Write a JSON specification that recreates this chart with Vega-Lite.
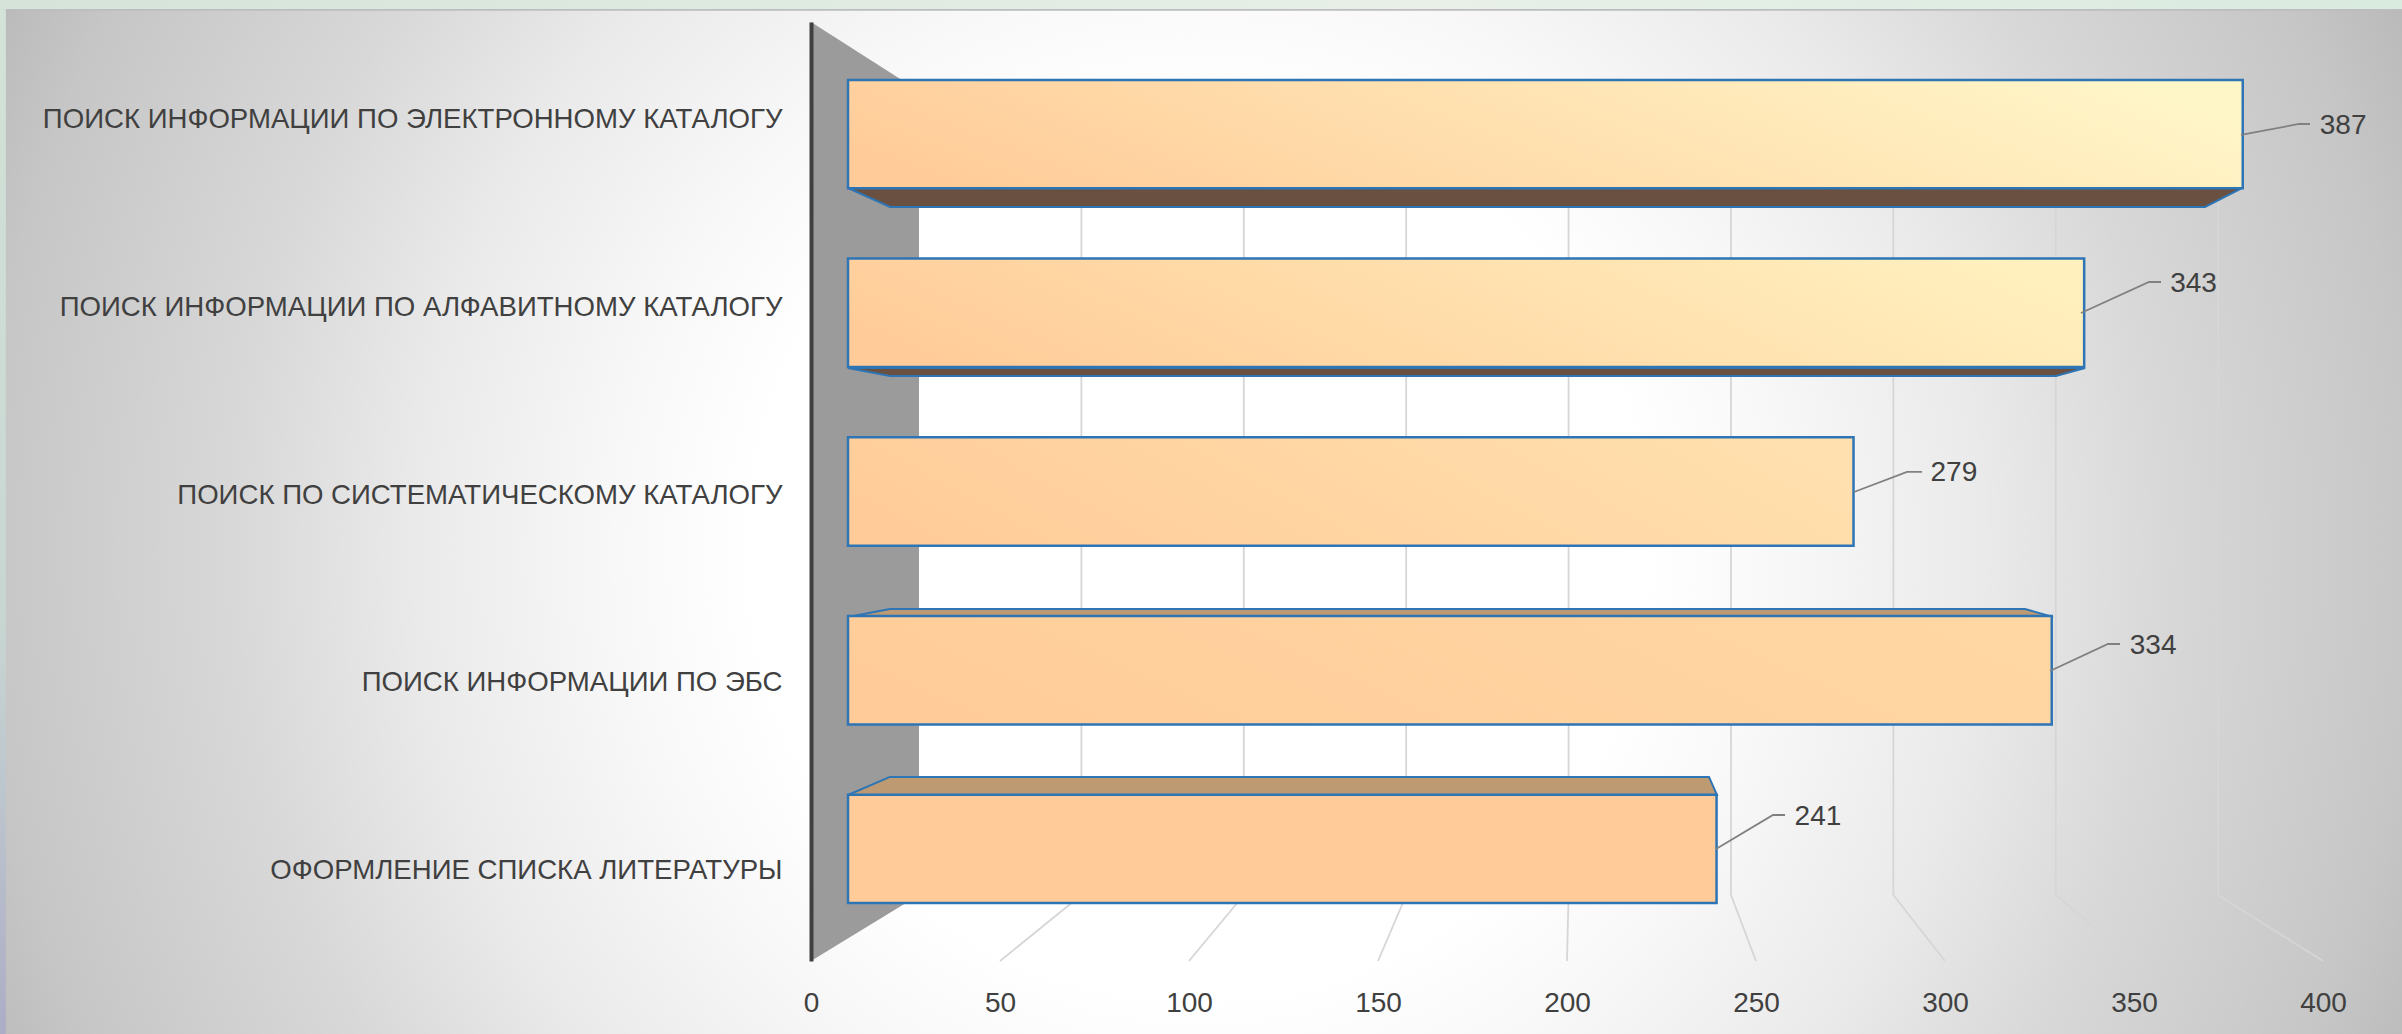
{
"$schema":"https://vega.github.io/schema/vega-lite/v6.json",
"width":1512,"height":939,
"autosize":{"type":"none"},
"padding":{"left":811,"top":22,"right":79,"bottom":73},
"background":"#E4EDE4",
"datasets":{
"bars":[
{"task":"ПОИСК ИНФОРМАЦИИ ПО ЭЛЕКТРОННОМУ КАТАЛОГУ","value":387},
{"task":"ПОИСК ИНФОРМАЦИИ ПО АЛФАВИТНОМУ КАТАЛОГУ","value":343},
{"task":"ПОИСК ПО СИСТЕМАТИЧЕСКОМУ КАТАЛОГУ","value":279},
{"task":"ПОИСК ИНФОРМАЦИИ ПО ЭБС","value":334},
{"task":"ОФОРМЛЕНИЕ СПИСКА ЛИТЕРАТУРЫ","value":241}],
"frame":[
{"part":"panel","x0":-254.7,"x1":460.1,"p0":187.7,"p1":-100.1},
{"part":"top","x0":-214.6,"x1":421,"p0":102.4,"p1":101.38},
{"part":"line","x0":-214.6,"x1":421,"p0":101.38,"p1":101.2},
{"part":"left","x0":-214.6,"x1":-213,"p0":101.38,"p1":-7.8}],
"wall":[{"x":0,"top":100,"bottom":0},{"x":28.57,"top":92.65,"bottom":7.03}],
"grid":[
{"tick":50,"x":71.53,"p":92.65},{"tick":50,"x":71.53,"p":7.03},{"tick":50,"x":50,"p":0},
{"tick":100,"x":114.5,"p":92.65},{"tick":100,"x":114.5,"p":7.03},{"tick":100,"x":100,"p":0},
{"tick":150,"x":157.46,"p":92.65},{"tick":150,"x":157.46,"p":7.03},{"tick":150,"x":150,"p":0},
{"tick":200,"x":200.42,"p":92.65},{"tick":200,"x":200.42,"p":7.03},{"tick":200,"x":200,"p":0},
{"tick":250,"x":243.39,"p":92.65},{"tick":250,"x":243.39,"p":7.03},{"tick":250,"x":250,"p":0},
{"tick":300,"x":286.35,"p":92.65},{"tick":300,"x":286.35,"p":7.03},{"tick":300,"x":300,"p":0},
{"tick":350,"x":329.3,"p":92.65},{"tick":350,"x":329.3,"p":7.03},{"tick":350,"x":350,"p":0},
{"tick":400,"x":372.27,"p":92.65},{"tick":400,"x":372.27,"p":7.03},{"tick":400,"x":400,"p":0}],
"faces":[
{"bar":1,"kind":"bottom","p":82.32,"x0":9.79,"x1":378.57},{"bar":1,"kind":"bottom","p":80.3,"x0":20.9,"x1":368.78},
{"bar":2,"kind":"bottom","p":63.15,"x0":9.79,"x1":337.04},{"bar":2,"kind":"bottom","p":62.3,"x0":20.9,"x1":329.37},
{"bar":4,"kind":"top","p":36.63,"x0":9.79,"x1":328.57},{"bar":4,"kind":"top","p":37.49,"x0":20.9,"x1":321.16},
{"bar":5,"kind":"top","p":17.68,"x0":9.79,"x1":239.68},{"bar":5,"kind":"top","p":19.6,"x0":20.9,"x1":237.57}],
"leaders":[
{"label":387,"step":1,"x":378.3,"p":87.97},{"label":387,"step":2,"x":393.65,"p":89.14},{"label":387,"step":3,"x":396.56,"p":89.14},
{"label":343,"step":1,"x":335.98,"p":69.01},{"label":343,"step":2,"x":353.97,"p":72.31},{"label":343,"step":3,"x":357.14,"p":72.31},
{"label":279,"step":1,"x":275.93,"p":49.95},{"label":279,"step":2,"x":289.95,"p":52.08},{"label":279,"step":3,"x":293.92,"p":52.08},
{"label":334,"step":1,"x":327.78,"p":30.88},{"label":334,"step":2,"x":343.12,"p":33.76},{"label":334,"step":3,"x":346.3,"p":33.76},
{"label":241,"step":1,"x":239.42,"p":11.93},{"label":241,"step":2,"x":254.5,"p":15.55},{"label":241,"step":3,"x":257.67,"p":15.55}]
},
"resolve":{"scale":{"x":"independent","y":"independent"},"axis":{"x":"independent","y":"independent"}},
"layer":[
{"data":{"name":"frame"},"transform":[{"filter":"datum.part==='panel'"}],
 "mark":{"type":"rect","fill":{"gradient":"radial","x1":0.5,"y1":0.5,"r1":0,"x2":0.5,"y2":0.5,"r2":0.5,"stops":[{"offset":0,"color":"#ffffff"},{"offset":0.33,"color":"#ffffff"},{"offset":0.43,"color":"#f8f8f8"},{"offset":0.58,"color":"#eaeaea"},{"offset":0.715,"color":"#d8d8d8"},{"offset":0.9,"color":"#c6c6c6"},{"offset":0.97,"color":"#bbbbbb"},{"offset":1,"color":"#b5b5b5"}]}},
 "encoding":{"x":{"field":"x0","type":"quantitative","scale":{"domain":[0,400]},"axis":null},"x2":{"field":"x1"},"y":{"field":"p0","type":"quantitative","scale":{"domain":[0,100]},"axis":null},"y2":{"field":"p1"}}},
{"data":{"name":"frame"},"transform":[{"filter":"datum.part==='top'"}],
 "mark":{"type":"rect","fill":{"gradient":"linear","x1":0,"y1":0,"x2":1,"y2":0,"stops":[{"offset":0,"color":"#D5E3D8"},{"offset":0.6,"color":"#E8F0E8"},{"offset":1,"color":"#D9EADF"}]}},
 "encoding":{"x":{"field":"x0","type":"quantitative","scale":{"domain":[0,400]},"axis":null},"x2":{"field":"x1"},"y":{"field":"p0","type":"quantitative","scale":{"domain":[0,100]},"axis":null},"y2":{"field":"p1"}}},
{"data":{"name":"frame"},"transform":[{"filter":"datum.part==='line'"}],
 "mark":{"type":"rect","fill":"#BDBDBD"},
 "encoding":{"x":{"field":"x0","type":"quantitative","scale":{"domain":[0,400]},"axis":null},"x2":{"field":"x1"},"y":{"field":"p0","type":"quantitative","scale":{"domain":[0,100]},"axis":null},"y2":{"field":"p1"}}},
{"data":{"name":"frame"},"transform":[{"filter":"datum.part==='left'"}],
 "mark":{"type":"rect","fill":{"gradient":"linear","x1":0,"y1":0,"x2":0,"y2":1,"stops":[{"offset":0,"color":"#D3E3D8"},{"offset":0.6,"color":"#C8D6D2"},{"offset":1,"color":"#ADADC6"}]}},
 "encoding":{"x":{"field":"x0","type":"quantitative","scale":{"domain":[0,400]},"axis":null},"x2":{"field":"x1"},"y":{"field":"p0","type":"quantitative","scale":{"domain":[0,100]},"axis":null},"y2":{"field":"p1"}}},
{"data":{"name":"wall"},
 "mark":{"type":"area","fill":"#9B9B9B"},
 "encoding":{"x":{"field":"x","type":"quantitative","scale":{"domain":[0,400]},"axis":null},"y":{"field":"top","type":"quantitative","scale":{"domain":[0,100]},"axis":null},"y2":{"field":"bottom"}}},
{"data":{"name":"grid"},
 "mark":{"type":"line","stroke":"#D6D6D6","strokeWidth":1.8},
 "encoding":{"x":{"field":"x","type":"quantitative","scale":{"domain":[0,400]},"axis":{"values":[0,50,100,150,200,250,300,350,400],"title":null,"grid":false,"domain":false,"ticks":false,"zindex":1,"labelFlush":false,"labelPadding":42,"labelFont":"Liberation Sans","labelFontSize":28,"labelColor":"#404040","labelBaseline":"middle"}},"y":{"field":"p","type":"quantitative","scale":{"domain":[0,100]},"axis":null},"detail":{"field":"tick"},"order":{"field":"p","sort":"descending"}}},
{"data":{"name":"bars"},
 "mark":{"type":"rect","opacity":0},
 "encoding":{"y":{"field":"task","type":"nominal","sort":null,"scale":{"type":"band","paddingInner":0,"paddingOuter":0},"axis":{"title":null,"ticks":false,"grid":false,"domainColor":"#404040","domainWidth":4,"zindex":1,"labelPadding":29,"labelOffset":4,"labelLimit":800,"labelFont":"Liberation Sans","labelFontSize":27.6,"labelColor":"#404040"}}}},
{"data":{"name":"faces"},"transform":[{"filter":"datum.kind==='bottom'"}],
 "mark":{"type":"area","orient":"horizontal","fill":"#695040","stroke":"#2E75B6","strokeWidth":2},
 "encoding":{"y":{"field":"p","type":"quantitative","scale":{"domain":[0,100]},"axis":null},"x":{"field":"x0","type":"quantitative","scale":{"domain":[0,400]},"axis":null},"x2":{"field":"x1"},"detail":{"field":"bar"}}},
{"data":{"name":"faces"},"transform":[{"filter":"datum.kind==='top'"}],
 "mark":{"type":"area","orient":"horizontal","fill":"#BE9A72","stroke":"#2E75B6","strokeWidth":2},
 "encoding":{"y":{"field":"p","type":"quantitative","scale":{"domain":[0,100]},"axis":null},"x":{"field":"x0","type":"quantitative","scale":{"domain":[0,400]},"axis":null},"x2":{"field":"x1"},"detail":{"field":"bar"}}},
{"data":{"name":"bars"},"transform":[{"filter":"datum.value===387"}],
 "mark":{"type":"bar","stroke":"#2E75B6","strokeWidth":2.5,"fill":{"gradient":"linear","x1":0,"y1":0.6,"x2":1,"y2":0.4,"stops":[{"offset":0,"color":"#FFCC99"},{"offset":1,"color":"#FFF6C8"}]}},
 "encoding":{"x":{"field":"value","type":"quantitative","scale":{"domain":[-10.27,409.27],"zero":false,"nice":false},"axis":null},"y":{"field":"task","type":"nominal","scale":{"type":"band","domain":["ПОИСК ИНФОРМАЦИИ ПО ЭЛЕКТРОННОМУ КАТАЛОГУ","ПОИСК ИНФОРМАЦИИ ПО АЛФАВИТНОМУ КАТАЛОГУ","ПОИСК ПО СИСТЕМАТИЧЕСКОМУ КАТАЛОГУ","ПОИСК ИНФОРМАЦИИ ПО ЭБС","ОФОРМЛЕНИЕ СПИСКА ЛИТЕРАТУРЫ"],"paddingInner":0.3935,"paddingOuter":0.3242},"axis":null}}},
{"data":{"name":"bars"},"transform":[{"filter":"datum.value===343"}],
 "mark":{"type":"bar","stroke":"#2E75B6","strokeWidth":2.5,"fill":{"gradient":"linear","x1":0,"y1":0.6,"x2":1,"y2":0.4,"stops":[{"offset":0,"color":"#FFCC99"},{"offset":1,"color":"#FFF0BE"}]}},
 "encoding":{"x":{"field":"value","type":"quantitative","scale":{"domain":[-10.27,409.27],"zero":false,"nice":false},"axis":null},"y":{"field":"task","type":"nominal","scale":{"type":"band","domain":["ПОИСК ИНФОРМАЦИИ ПО ЭЛЕКТРОННОМУ КАТАЛОГУ","ПОИСК ИНФОРМАЦИИ ПО АЛФАВИТНОМУ КАТАЛОГУ","ПОИСК ПО СИСТЕМАТИЧЕСКОМУ КАТАЛОГУ","ПОИСК ИНФОРМАЦИИ ПО ЭБС","ОФОРМЛЕНИЕ СПИСКА ЛИТЕРАТУРЫ"],"paddingInner":0.3935,"paddingOuter":0.3242},"axis":null}}},
{"data":{"name":"bars"},"transform":[{"filter":"datum.value===279"}],
 "mark":{"type":"bar","stroke":"#2E75B6","strokeWidth":2.5,"fill":{"gradient":"linear","x1":0,"y1":0.6,"x2":1,"y2":0.4,"stops":[{"offset":0,"color":"#FFCC99"},{"offset":1,"color":"#FFE0AE"}]}},
 "encoding":{"x":{"field":"value","type":"quantitative","scale":{"domain":[-10.27,409.27],"zero":false,"nice":false},"axis":null},"y":{"field":"task","type":"nominal","scale":{"type":"band","domain":["ПОИСК ИНФОРМАЦИИ ПО ЭЛЕКТРОННОМУ КАТАЛОГУ","ПОИСК ИНФОРМАЦИИ ПО АЛФАВИТНОМУ КАТАЛОГУ","ПОИСК ПО СИСТЕМАТИЧЕСКОМУ КАТАЛОГУ","ПОИСК ИНФОРМАЦИИ ПО ЭБС","ОФОРМЛЕНИЕ СПИСКА ЛИТЕРАТУРЫ"],"paddingInner":0.3935,"paddingOuter":0.3242},"axis":null}}},
{"data":{"name":"bars"},"transform":[{"filter":"datum.value===334"}],
 "mark":{"type":"bar","stroke":"#2E75B6","strokeWidth":2.5,"fill":{"gradient":"linear","x1":0,"y1":0.6,"x2":1,"y2":0.4,"stops":[{"offset":0,"color":"#FFCC99"},{"offset":1,"color":"#FFD7A3"}]}},
 "encoding":{"x":{"field":"value","type":"quantitative","scale":{"domain":[-10.27,409.27],"zero":false,"nice":false},"axis":null},"y":{"field":"task","type":"nominal","scale":{"type":"band","domain":["ПОИСК ИНФОРМАЦИИ ПО ЭЛЕКТРОННОМУ КАТАЛОГУ","ПОИСК ИНФОРМАЦИИ ПО АЛФАВИТНОМУ КАТАЛОГУ","ПОИСК ПО СИСТЕМАТИЧЕСКОМУ КАТАЛОГУ","ПОИСК ИНФОРМАЦИИ ПО ЭБС","ОФОРМЛЕНИЕ СПИСКА ЛИТЕРАТУРЫ"],"paddingInner":0.3935,"paddingOuter":0.3242},"axis":null}}},
{"data":{"name":"bars"},"transform":[{"filter":"datum.value===241"}],
 "mark":{"type":"bar","stroke":"#2E75B6","strokeWidth":2.5,"fill":"#FFCC99"},
 "encoding":{"x":{"field":"value","type":"quantitative","scale":{"domain":[-10.27,409.27],"zero":false,"nice":false},"axis":null},"y":{"field":"task","type":"nominal","scale":{"type":"band","domain":["ПОИСК ИНФОРМАЦИИ ПО ЭЛЕКТРОННОМУ КАТАЛОГУ","ПОИСК ИНФОРМАЦИИ ПО АЛФАВИТНОМУ КАТАЛОГУ","ПОИСК ПО СИСТЕМАТИЧЕСКОМУ КАТАЛОГУ","ПОИСК ИНФОРМАЦИИ ПО ЭБС","ОФОРМЛЕНИЕ СПИСКА ЛИТЕРАТУРЫ"],"paddingInner":0.3935,"paddingOuter":0.3242},"axis":null}}},
{"data":{"name":"leaders"},
 "mark":{"type":"line","stroke":"#808080","strokeWidth":1.8},
 "encoding":{"x":{"field":"x","type":"quantitative","scale":{"domain":[0,400]},"axis":null},"y":{"field":"p","type":"quantitative","scale":{"domain":[0,100]},"axis":null},"detail":{"field":"label"},"order":{"field":"step"}}},
{"data":{"name":"bars"},"transform":[{"filter":"datum.value===387"}],
 "mark":{"type":"text","align":"left","baseline":"middle","dx":77,"dy":-8,"font":"Liberation Sans","fontSize":28,"fill":"#404040"},
 "encoding":{"text":{"field":"value"},"x":{"field":"value","type":"quantitative","scale":{"domain":[-10.27,409.27],"zero":false,"nice":false},"axis":null},"y":{"field":"task","type":"nominal","scale":{"type":"band","domain":["ПОИСК ИНФОРМАЦИИ ПО ЭЛЕКТРОННОМУ КАТАЛОГУ","ПОИСК ИНФОРМАЦИИ ПО АЛФАВИТНОМУ КАТАЛОГУ","ПОИСК ПО СИСТЕМАТИЧЕСКОМУ КАТАЛОГУ","ПОИСК ИНФОРМАЦИИ ПО ЭБС","ОФОРМЛЕНИЕ СПИСКА ЛИТЕРАТУРЫ"],"paddingInner":0.3935,"paddingOuter":0.3242},"axis":null}}},
{"data":{"name":"bars"},"transform":[{"filter":"datum.value===343"}],
 "mark":{"type":"text","align":"left","baseline":"middle","dx":86,"dy":-29,"font":"Liberation Sans","fontSize":28,"fill":"#404040"},
 "encoding":{"text":{"field":"value"},"x":{"field":"value","type":"quantitative","scale":{"domain":[-10.27,409.27],"zero":false,"nice":false},"axis":null},"y":{"field":"task","type":"nominal","scale":{"type":"band","domain":["ПОИСК ИНФОРМАЦИИ ПО ЭЛЕКТРОННОМУ КАТАЛОГУ","ПОИСК ИНФОРМАЦИИ ПО АЛФАВИТНОМУ КАТАЛОГУ","ПОИСК ПО СИСТЕМАТИЧЕСКОМУ КАТАЛОГУ","ПОИСК ИНФОРМАЦИИ ПО ЭБС","ОФОРМЛЕНИЕ СПИСКА ЛИТЕРАТУРЫ"],"paddingInner":0.3935,"paddingOuter":0.3242},"axis":null}}},
{"data":{"name":"bars"},"transform":[{"filter":"datum.value===279"}],
 "mark":{"type":"text","align":"left","baseline":"middle","dx":77,"dy":-19,"font":"Liberation Sans","fontSize":28,"fill":"#404040"},
 "encoding":{"text":{"field":"value"},"x":{"field":"value","type":"quantitative","scale":{"domain":[-10.27,409.27],"zero":false,"nice":false},"axis":null},"y":{"field":"task","type":"nominal","scale":{"type":"band","domain":["ПОИСК ИНФОРМАЦИИ ПО ЭЛЕКТРОННОМУ КАТАЛОГУ","ПОИСК ИНФОРМАЦИИ ПО АЛФАВИТНОМУ КАТАЛОГУ","ПОИСК ПО СИСТЕМАТИЧЕСКОМУ КАТАЛОГУ","ПОИСК ИНФОРМАЦИИ ПО ЭБС","ОФОРМЛЕНИЕ СПИСКА ЛИТЕРАТУРЫ"],"paddingInner":0.3935,"paddingOuter":0.3242},"axis":null}}},
{"data":{"name":"bars"},"transform":[{"filter":"datum.value===334"}],
 "mark":{"type":"text","align":"left","baseline":"middle","dx":78,"dy":-24,"font":"Liberation Sans","fontSize":28,"fill":"#404040"},
 "encoding":{"text":{"field":"value"},"x":{"field":"value","type":"quantitative","scale":{"domain":[-10.27,409.27],"zero":false,"nice":false},"axis":null},"y":{"field":"task","type":"nominal","scale":{"type":"band","domain":["ПОИСК ИНФОРМАЦИИ ПО ЭЛЕКТРОННОМУ КАТАЛОГУ","ПОИСК ИНФОРМАЦИИ ПО АЛФАВИТНОМУ КАТАЛОГУ","ПОИСК ПО СИСТЕМАТИЧЕСКОМУ КАТАЛОГУ","ПОИСК ИНФОРМАЦИИ ПО ЭБС","ОФОРМЛЕНИЕ СПИСКА ЛИТЕРАТУРЫ"],"paddingInner":0.3935,"paddingOuter":0.3242},"axis":null}}},
{"data":{"name":"bars"},"transform":[{"filter":"datum.value===241"}],
 "mark":{"type":"text","align":"left","baseline":"middle","dx":78,"dy":-32,"font":"Liberation Sans","fontSize":28,"fill":"#404040"},
 "encoding":{"text":{"field":"value"},"x":{"field":"value","type":"quantitative","scale":{"domain":[-10.27,409.27],"zero":false,"nice":false},"axis":null},"y":{"field":"task","type":"nominal","scale":{"type":"band","domain":["ПОИСК ИНФОРМАЦИИ ПО ЭЛЕКТРОННОМУ КАТАЛОГУ","ПОИСК ИНФОРМАЦИИ ПО АЛФАВИТНОМУ КАТАЛОГУ","ПОИСК ПО СИСТЕМАТИЧЕСКОМУ КАТАЛОГУ","ПОИСК ИНФОРМАЦИИ ПО ЭБС","ОФОРМЛЕНИЕ СПИСКА ЛИТЕРАТУРЫ"],"paddingInner":0.3935,"paddingOuter":0.3242},"axis":null}}}
]
}
